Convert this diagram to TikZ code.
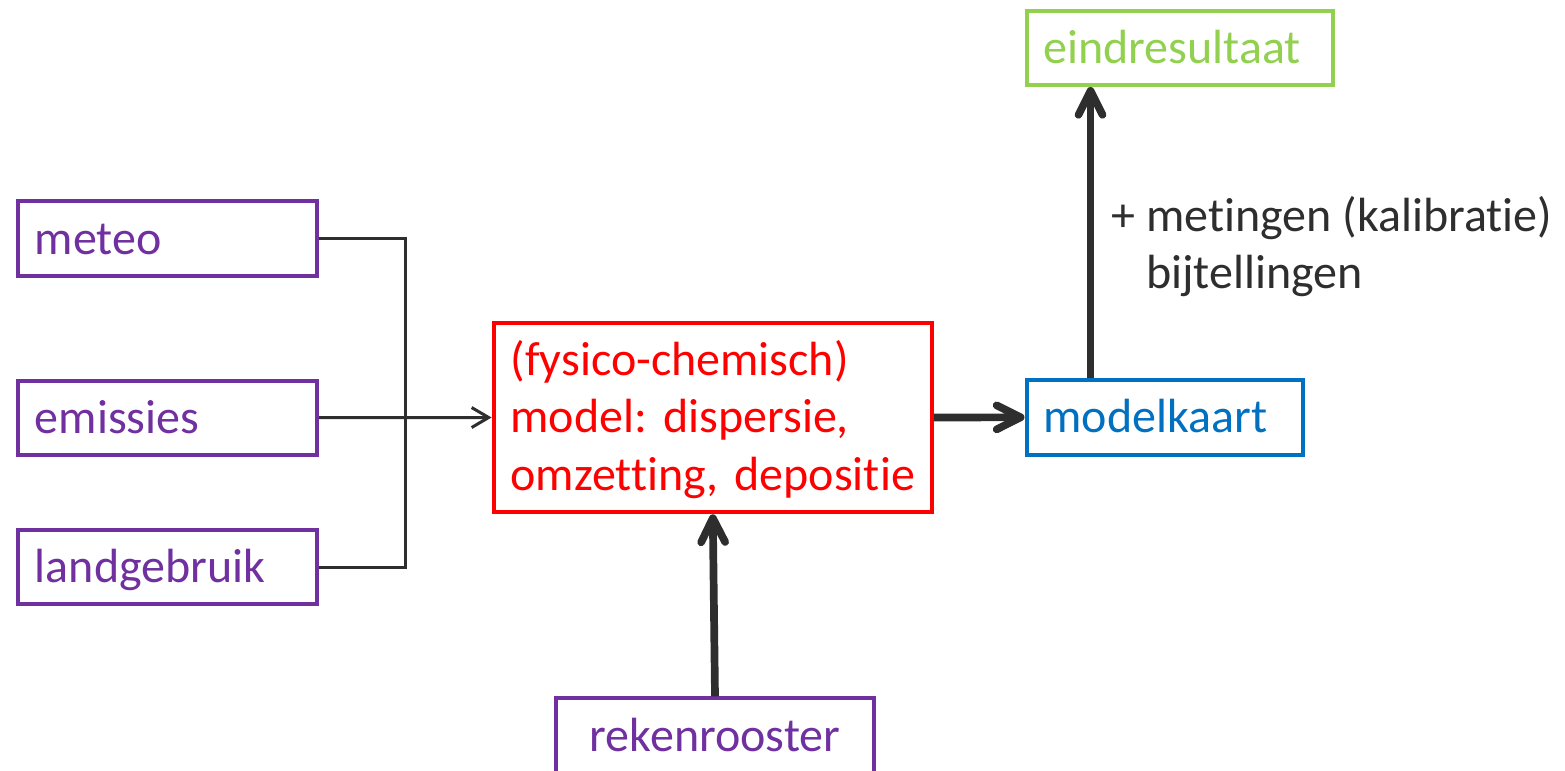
\documentclass[tikz,border=0pt]{standalone}
\usepackage{fontspec}
\setmainfont{Carlito}[Ligatures=NoCommon]
\usetikzlibrary{arrows.meta}
\definecolor{cpurple}{HTML}{7030A0}
\definecolor{cred}{HTML}{FF0000}
\definecolor{cblue}{HTML}{0070C0}
\definecolor{cgreen}{HTML}{92D050}
\definecolor{cdark}{HTML}{2E2E2E}
\begin{document}
\begin{tikzpicture}[x=0.5pt,y=-0.5pt,
  txt/.style={font=\fontsize{24}{28.75}\selectfont},
  box/.style={txt, draw, rectangle, line width=2pt, inner xsep=8.5pt, inner ysep=0pt,
              minimum height=37.2pt, text height=15.5pt, text depth=0pt, align=left},
  inbox/.style={box, draw=cpurple, text=cpurple, minimum width=149.6pt, text width=132.6pt},
  thinline/.style={draw=cdark, line width=1.5pt},
  thinarrow/.style={thinline, -{Straight Barb[length=8.5pt,width=10pt,line width=1.5pt]}},
  thickarrow/.style={draw=cdark, line width=3.85pt, -{Straight Barb[length=12pt,width=12pt,round]}}
]
\useasboundingbox (0,0) rectangle (1565,771);

\node[inbox] (meteo) at (167.5,238.5) {meteo};
\node[inbox] (emissies) at (167.5,417.7) {emissies};
\node[inbox] (landgebruik) at (167.5,567) {landgebruik};

\node[box, draw=cred, text=cred, minimum width=219.2pt, text width=202.2pt,
      minimum height=94.8pt, text height=15.5pt, text depth=57.8pt] (model) at (712.8,417.5)
  {(fysico-chemisch)\\model:\ dispersie,\\omzetting,\ depositie};

\node[box, draw=cblue, text=cblue, minimum width=138.2pt, text width=121.2pt] (kaart) at (1164.7,417.3) {modelkaart};
\node[box, draw=cgreen, text=cgreen, minimum width=153.2pt, text width=136.2pt] (eind) at (1179.7,47.8) {eindresultaat};
\node[box, draw=cpurple, text=cpurple, minimum width=159pt, text width=142pt, align=center] (reken) at (715,735.5) {rekenrooster};

\coordinate (bus) at (405,417.5);
\draw[thinline] (meteo.east) -| (bus) |- (landgebruik.east);
\draw[thinarrow] (emissies.east) -- (model.west);

\draw[thickarrow] (model.east) -- (kaart.west);
\draw[thickarrow] (reken.north) -- (model.south);
\draw[thickarrow] ([xshift=33pt]kaart.north west) -- ([xshift=33pt]eind.south west);

\node[txt, text=cdark, anchor=base west, inner sep=0pt, align=left] (label) at (1111,288.5)
  {+ metingen (kalibratie)\\\phantom{+}\ bijtellingen};
\end{tikzpicture}
\end{document}
